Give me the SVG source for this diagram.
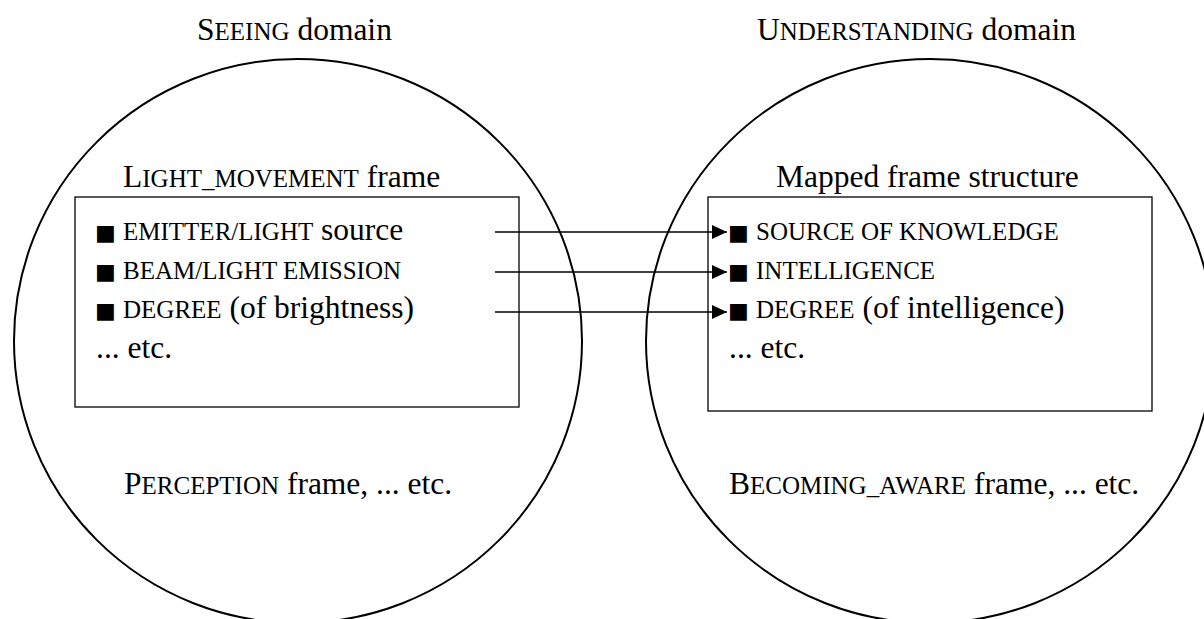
<svg xmlns="http://www.w3.org/2000/svg" width="1204" height="619" viewBox="0 0 1204 619">
<style>
text{font-family:"Liberation Serif","Times New Roman",serif;font-size:31.5px;fill:#000}
.sc{font-size:25px}
.bul{font-family:"DejaVu Sans",sans-serif;font-size:22px}
.dom{fill:none;stroke:#000;stroke-width:2}
.box{fill:none;stroke:#000;stroke-width:1.3}
.con{stroke:#000;stroke-width:1.3;fill:none}
</style>
<defs>
<marker id="ah" markerWidth="16" markerHeight="14" refX="15" refY="7" orient="auto" markerUnits="userSpaceOnUse">
<path d="M0,0 L15,7 L0,14 Z" fill="#000"/>
</marker>
</defs>
<rect width="1204" height="619" fill="#fff"/>

<g id="seeing-domain">
<ellipse class="dom" cx="298" cy="341" rx="284" ry="282"/>
<text x="197" y="40">S<tspan class="sc">EEING</tspan> domain</text>
<text x="124" y="494">P<tspan class="sc">ERCEPTION</tspan> frame, ... etc.</text>
</g>

<g id="understanding-domain">
<ellipse class="dom" cx="930" cy="341" rx="284" ry="282"/>
<text x="757" y="40">U<tspan class="sc">NDERSTANDING</tspan> domain</text>
<text x="729" y="494">B<tspan class="sc">ECOMING_AWARE</tspan> frame, ... etc.</text>
</g>

<g id="light-movement-frame">
<rect class="box" x="75" y="197" width="444" height="210"/>
<text x="123" y="187">L<tspan class="sc">IGHT_MOVEMENT</tspan> frame</text>
<text y="240"><tspan class="bul" x="95">■</tspan><tspan class="sc" x="123">EMITTER/LIGHT</tspan> source</text>
<text y="279"><tspan class="bul" x="95">■</tspan><tspan class="sc" x="123">BEAM/LIGHT EMISSION</tspan></text>
<text y="318"><tspan class="bul" x="95">■</tspan><tspan class="sc" x="123">DEGREE</tspan> (of brightness)</text>
<text x="96" y="358">... etc.</text>
</g>

<g id="mapped-frame">
<rect class="box" x="708" y="197" width="444" height="214"/>
<text x="776" y="187">Mapped frame structure</text>
<text y="240"><tspan class="bul" x="728">■</tspan><tspan class="sc" x="756">SOURCE OF KNOWLEDGE</tspan></text>
<text y="279"><tspan class="bul" x="728">■</tspan><tspan class="sc" x="756">INTELLIGENCE</tspan></text>
<text y="318"><tspan class="bul" x="728">■</tspan><tspan class="sc" x="756">DEGREE</tspan> (of intelligence)</text>
<text x="729" y="358">... etc.</text>
</g>

<g id="connectors">
<line class="con" x1="495" y1="232" x2="727" y2="232" marker-end="url(#ah)"/>
<line class="con" x1="495" y1="272" x2="727" y2="272" marker-end="url(#ah)"/>
<line class="con" x1="495" y1="312" x2="727" y2="312" marker-end="url(#ah)"/>
</g>
</svg>
